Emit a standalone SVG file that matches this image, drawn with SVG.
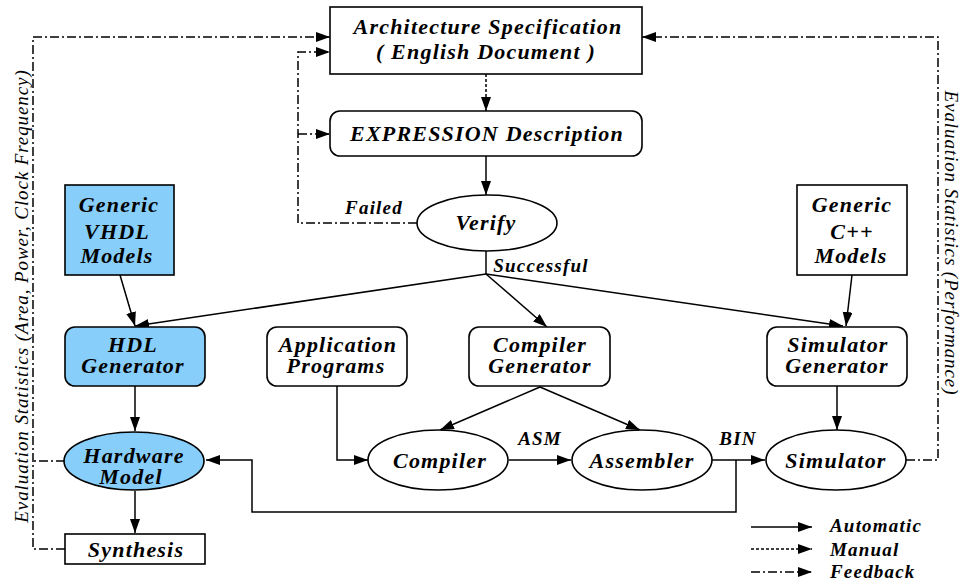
<svg xmlns="http://www.w3.org/2000/svg" width="961" height="585" viewBox="0 0 961 585">
<style>
text{font-family:"Liberation Serif","Times New Roman",serif;font-style:italic;font-weight:bold;font-size:22px;letter-spacing:1.2px;fill:#000;text-anchor:middle}
.lbl{font-size:19px}
.side{font-weight:normal;font-size:19px;letter-spacing:0.9px}
.node{fill:#fff;stroke:#000;stroke-width:1.6}
.blue{fill:#87cefa}
.c{fill:none;stroke:#000;stroke-width:1.5}
.man{stroke-dasharray:3,2}
.fb{stroke-dasharray:9,3,2,3}
</style>
<defs>
<marker id="ah" markerUnits="userSpaceOnUse" markerWidth="15" markerHeight="11" refX="14" refY="5" orient="auto">
<path d="M0,0 L14,5 L0,10 z" fill="#000"/>
</marker>
</defs>
<rect width="961" height="585" fill="#fff"/>
<g id="connectors">
<path class="c man" d="M486,74 L486,111" marker-end="url(#ah)"/>
<path class="c" d="M486,156 L486,195" marker-end="url(#ah)"/>
<path class="c fb" d="M417,223 L298,223 L298,52 L330,52" marker-end="url(#ah)"/>
<path class="c fb" d="M298,134 L330,134" marker-end="url(#ah)"/>
<path class="c fb" d="M65,549 L33,549 L33,37 L330,37" marker-end="url(#ah)"/>
<path class="c fb" d="M65,461 L33,461"/>
<path class="c fb" d="M906,460 L938,460 L938,37 L642,37" marker-end="url(#ah)"/>
<path class="c" d="M486,251 L486,274"/>
<path class="c" d="M486,274 L135,326" marker-end="url(#ah)"/>
<path class="c" d="M486,274 L547,327" marker-end="url(#ah)"/>
<path class="c" d="M486,274 L843,326" marker-end="url(#ah)"/>
<path class="c" d="M120,275 L135,326" marker-end="url(#ah)"/>
<path class="c" d="M852,275 L846,326" marker-end="url(#ah)"/>
<path class="c" d="M135,386 L135,431" marker-end="url(#ah)"/>
<path class="c" d="M135,491 L135,533" marker-end="url(#ah)"/>
<path class="c" d="M337,386 L337,460 L368,460" marker-end="url(#ah)"/>
<path class="c" d="M540,387 L440,430" marker-end="url(#ah)"/>
<path class="c" d="M540,387 L640,430" marker-end="url(#ah)"/>
<path class="c" d="M509,460 L571,460" marker-end="url(#ah)"/>
<path class="c" d="M712,460 L765,460" marker-end="url(#ah)"/>
<path class="c" d="M736,460 L736,512 L252,512 L252,460 L206,460" marker-end="url(#ah)"/>
<path class="c" d="M837,386 L837,430" marker-end="url(#ah)"/>
<text class="lbl" x="374" y="214">Failed</text>
<text class="lbl" x="541" y="272">Successful</text>
<text class="lbl" x="540" y="445">ASM</text>
<text class="lbl" x="738" y="445">BIN</text>
</g>
<g id="arch-spec">
<rect class="node" x="330" y="7" width="312" height="67"/>
<text x="488" y="34">Architecture Specification</text>
<text x="486" y="59">( English Document )</text>
</g>
<g id="expression">
<rect class="node" x="330" y="111" width="312" height="45" rx="10"/>
<text x="487" y="141">EXPRESSION Description</text>
</g>
<g id="verify">
<ellipse class="node" cx="487" cy="223" rx="70" ry="28"/>
<text x="486" y="230">Verify</text>
</g>
<g id="generic-vhdl">
<rect class="node blue" x="65" y="185" width="109" height="90"/>
<text x="119" y="212">Generic</text>
<text x="117" y="239">VHDL</text>
<text x="117" y="263">Models</text>
</g>
<g id="generic-cpp">
<rect class="node" x="797" y="185" width="110" height="90"/>
<text x="852" y="212">Generic</text>
<text x="852" y="239">C++</text>
<text x="851" y="263">Models</text>
</g>
<g id="hdl-gen">
<rect class="node blue" x="65" y="327" width="140" height="59" rx="10"/>
<text x="133" y="352">HDL</text>
<text x="133" y="373">Generator</text>
</g>
<g id="app-programs">
<rect class="node" x="267" y="327" width="140" height="59" rx="10"/>
<text x="338" y="352">Application</text>
<text x="336" y="373">Programs</text>
</g>
<g id="compiler-gen">
<rect class="node" x="469" y="327" width="141" height="59" rx="10"/>
<text x="540" y="352">Compiler</text>
<text x="540" y="373">Generator</text>
</g>
<g id="simulator-gen">
<rect class="node" x="767" y="327" width="140" height="59" rx="10"/>
<text x="838" y="352">Simulator</text>
<text x="837" y="373">Generator</text>
</g>
<g id="hardware-model">
<ellipse class="node blue" cx="134" cy="461" rx="70" ry="29"/>
<text x="134" y="463">Hardware</text>
<text x="131" y="484">Model</text>
</g>
<g id="compiler">
<ellipse class="node" cx="438" cy="460" rx="70" ry="30"/>
<text x="440" y="468">Compiler</text>
</g>
<g id="assembler">
<ellipse class="node" cx="642" cy="460" rx="70" ry="30"/>
<text x="642" y="468">Assembler</text>
</g>
<g id="simulator">
<ellipse class="node" cx="836" cy="460" rx="70" ry="30"/>
<text x="836" y="468">Simulator</text>
</g>
<g id="synthesis">
<rect class="node" x="65" y="534" width="140" height="30"/>
<text x="136" y="557">Synthesis</text>
</g>
<g id="side-labels">
<text class="side" transform="translate(28,296) rotate(-90)">Evaluation Statistics (Area, Power, Clock Frequency)</text>
<text class="side" transform="translate(945,243) rotate(90)">Evaluation Statistics (Performance)</text>
</g>
<g id="legend">
<path class="c" d="M751,527 L812,527" marker-end="url(#ah)"/>
<path class="c man" d="M751,549 L812,549" marker-end="url(#ah)"/>
<path class="c fb" d="M751,572 L812,572" marker-end="url(#ah)"/>
<text class="lbl" x="830" y="532" style="text-anchor:start">Automatic</text>
<text class="lbl" x="830" y="556" style="text-anchor:start">Manual</text>
<text class="lbl" x="830" y="578" style="text-anchor:start">Feedback</text>
</g>
</svg>
